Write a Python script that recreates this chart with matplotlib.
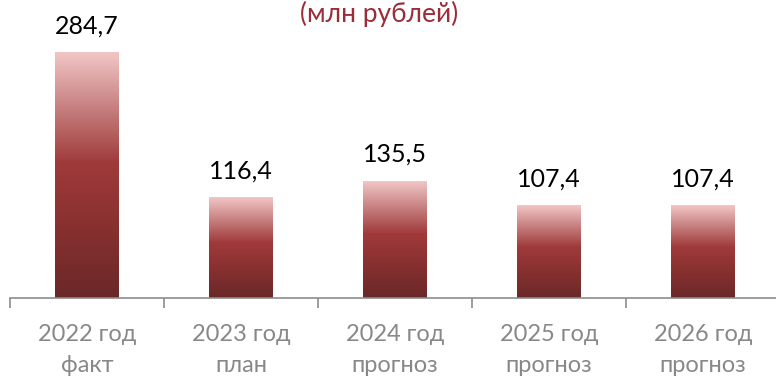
import numpy as np
import matplotlib.pyplot as plt
from matplotlib.colors import LinearSegmentedColormap

plt.rcParams['font.family'] = ['Lato', 'DejaVu Sans']

years = ['2022 год', '2023 год', '2024 год', '2025 год', '2026 год']
kinds = ['факт', 'план', 'прогноз', 'прогноз', 'прогноз']
values = [284.7, 116.4, 135.5, 107.4, 107.4]
unit_title = '(млн рублей)'

# vertical fill for each bar: dark at the base, pink at the top
bar_cmap = LinearSegmentedColormap.from_list(
    'bar_fill',
    [(0.0, '#6a2828'), (0.35, '#8e3232'), (0.55, '#a03a3a'),
     (0.75, '#c27878'), (1.0, '#f2c6c6')])

fig = plt.figure(figsize=(7.76, 3.78), dpi=100)
ax = fig.add_axes([10 / 776, 1 - 298 / 378, 770 / 776, 298 / 378])

x = np.arange(len(values))
bars = ax.bar(x, values, width=0.415, color='none', edgecolor='none')
grad = np.linspace(0, 1, 256).reshape(-1, 1)
for b in bars:
    x0, w, h = b.get_x(), b.get_width(), b.get_height()
    ax.imshow(grad, cmap=bar_cmap, origin='lower', aspect='auto',
              extent=[x0, x0 + w, 0, h], zorder=2)

for xi, v in zip(x, values):
    ax.annotate(f'{v:.1f}'.replace('.', ','), (xi, v), xytext=(0, 11),
                textcoords='offset points', ha='center', va='bottom',
                fontsize=18, color='black')

ax.set_xlim(-0.5, len(values) - 0.5)
ax.set_ylim(0, 346)

for s in ['left', 'right', 'top']:
    ax.spines[s].set_visible(False)
ax.spines['bottom'].set_color('#8c8c8c')
ax.spines['bottom'].set_linewidth(1.2)
ax.set_yticks([])

ax.set_xticks(x)
ax.set_xticklabels([f'{y}\n{k}' for y, k in zip(years, kinds)],
                   fontsize=17, color='#888888', linespacing=1.55)
ax.tick_params(axis='x', which='major', length=0, pad=19)
ax.set_xticks(np.arange(-0.5, len(values), 1.0), minor=True)
ax.tick_params(axis='x', which='minor', length=7, width=1.2, color='#8c8c8c')

fig.text(379 / 776, 1 - 22 / 378, unit_title, ha='center', va='baseline',
         fontsize=19, color='#9b2d3a')

fig.savefig('out.png', dpi=100)
